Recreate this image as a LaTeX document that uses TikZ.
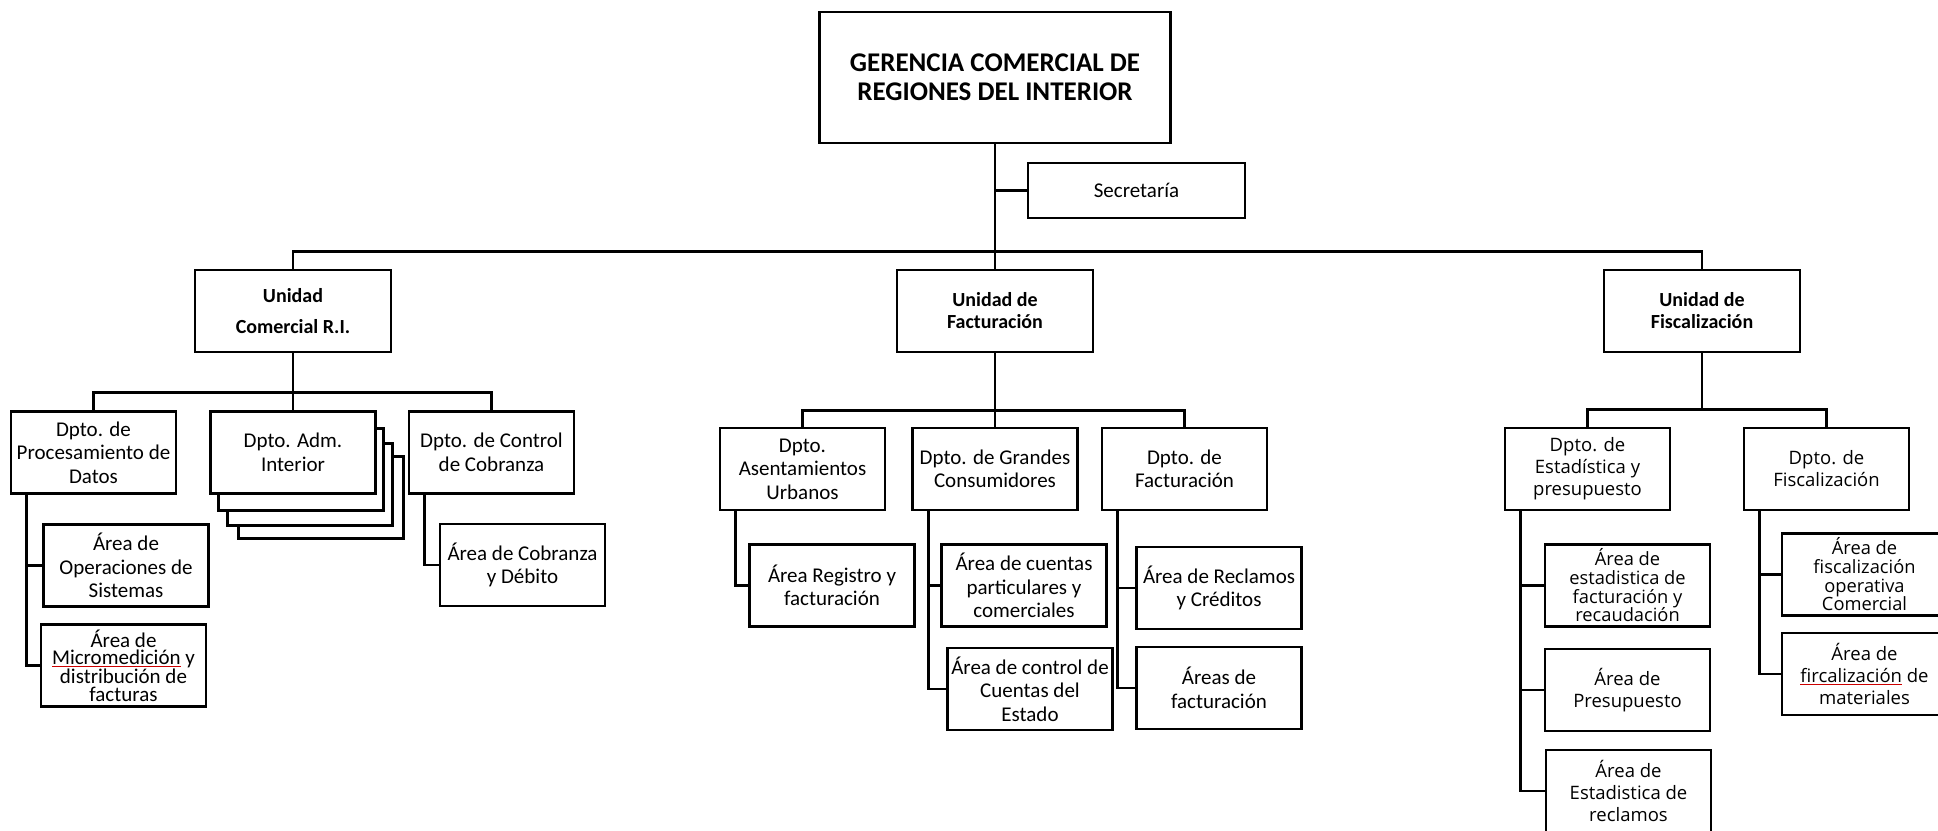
\documentclass[tikz,border=0pt]{standalone}
\usepackage{fontspec}
\setmainfont{Carlito}
\newfontfamily\widefont{Open Sans}
\usetikzlibrary{shadows}
\newcommand{\spellmark}[1]{{\color{red!80!black}$\underline{\hbox{\color{black}#1}}$}}

\begin{document}
\begin{tikzpicture}[x=1pt, y=-1pt,
  box/.style={draw, line width=2.6pt, fill=white, align=center, inner sep=0pt,
    minimum width=165pt, minimum height=82pt, font=\fontsize{21}{23.5}\selectfont},
  unitbox/.style={box, minimum width=196pt, font=\bfseries\fontsize{20}{22}\selectfont},
  tightbox/.style={box, font=\fontsize{21}{17.6}\selectfont},
  fiscbox/.style={box, font=\widefont\fontsize{18.5}{22}\selectfont},
  tightfisc/.style={box, font=\widefont\fontsize{18.3}{18.7}\selectfont},
  link/.style={line width=2.6pt}]
\useasboundingbox (0,0) rectangle (1938,830);
\clip (0,0) rectangle (1938,830);

\node[box, minimum width=351pt, minimum height=131pt, font=\bfseries\fontsize{27}{29}\selectfont] (ger) at (995,77.5) {GERENCIA COMERCIAL DE\\REGIONES DEL INTERIOR};
\node[box, minimum width=217pt, minimum height=55pt] (sec) at (1136.5,190.5) {Secretaría};

\node[unitbox] (ucom) at (293,311) {Unidad\\[9pt]Comercial R.I.};
\node[unitbox] (ufac) at (995,311) {Unidad de\\Facturación};
\node[unitbox] (ufis) at (1702,311) {Unidad de\\Fiscalización};

% Unidad Comercial R.I.
\node[box] (proc) at (93.5,452.5) {Dpto. de\\Procesamiento de\\Datos};
\node[box,
  copy shadow={shadow xshift=28pt, shadow yshift=-45pt, fill=white, draw=black, line width=2.2pt},
  copy shadow={shadow xshift=17pt, shadow yshift=-32pt, fill=white, draw=black, line width=2.2pt},
  copy shadow={shadow xshift=8pt, shadow yshift=-17pt, fill=white, draw=black, line width=2.2pt}]
  (adm) at (293,452.5) {Dpto. Adm.\\Interior};
\node[box] (ctrl) at (491.5,452.5) {Dpto. de Control\\de Cobranza};
\node[box] (aops) at (126,565.5) {Área de\\Operaciones de\\Sistemas};
\node[tightbox] (amic) at (123.5,665.5) {Área de\\\spellmark{Micromedición} y\\distribución de\\facturas};
\node[box] (acob) at (522.5,565) {Área de Cobranza\\y Débito};

% Unidad de Facturacion
\node[box] (asen) at (802.5,469) {Dpto.\\Asentamientos\\Urbanos};
\node[box] (gran) at (995,469) {Dpto. de Grandes\\Consumidores};
\node[box] (dfac) at (1184.5,469) {Dpto. de\\Facturación};
\node[box] (areg) at (832,585.5) {Área Registro y\\facturación};
\node[box] (acta) at (1024,585.5) {Área de cuentas\\particulares y\\comerciales};
\node[box] (aest) at (1030,689) {Área de control de\\Cuentas del\\Estado};
\node[box] (arec) at (1219,588) {Área de Reclamos\\y Créditos};
\node[box] (afac) at (1219,688) {Áreas de\\facturación};

% Unidad de Fiscalizacion
\node[fiscbox] (dest) at (1587.5,469) {Dpto. de\\Estadística y\\presupuesto};
\node[fiscbox] (dfis) at (1826.5,469) {Dpto. de\\Fiscalización};
\node[tightfisc] (aeft) at (1627.5,585.5) {Área de\\estadistica de\\facturación y\\recaudación};
\node[fiscbox] (apre) at (1627.5,690) {Área de\\Presupuesto};
\node[fiscbox] (aerc) at (1628.5,791) {Área de\\Estadistica de\\reclamos};
\node[tightfisc] (afop) at (1864.5,574.5) {Área de\\fiscalización\\operativa\\Comercial};
\node[fiscbox] (afma) at (1864.5,674) {Área de\\\spellmark{fircalización} de\\materiales};

\coordinate (fisbus) at ([yshift=17pt]dest.north);

\draw[link] (ger) -- (ufac);
\draw[link] (sec.west) -- (sec.west -| ger.south);
\draw[link] (ucom.north) -- ++(0,-17) -| (ufis.north);

\draw[link] (ucom) -- (adm);
\draw[link] (proc.north) -- ++(0,-18) -| (ctrl.north);
\draw[link] ([xshift=17pt]proc.south west) |- (aops.west);
\draw[link] ([xshift=17pt]proc.south west) |- (amic.west);
\draw[link] ([xshift=17pt]ctrl.south west) |- (acob.west);

\draw[link] (ufac) -- (gran);
\draw[link] (asen.north) -- ++(0,-16) -| (dfac.north);
\draw[link] ([xshift=17pt]asen.south west) |- (areg.west);
\draw[link] ([xshift=17pt]gran.south west) |- (acta.west);
\draw[link] ([xshift=17pt]gran.south west) |- (aest.west);
\draw[link] ([xshift=17pt]dfac.south west) |- (arec.west);
\draw[link] ([xshift=17pt]dfac.south west) |- (afac.west);

\draw[link] (ufis.south) -- (ufis.south |- fisbus);
\draw[link] (dest.north) -- (fisbus) -| (dfis.north);
\draw[link] ([xshift=17pt]dest.south west) |- (aeft.west);
\draw[link] ([xshift=17pt]dest.south west) |- (apre.west);
\draw[link] ([xshift=17pt]dest.south west) |- (aerc.west);
\draw[link] ([xshift=17pt]dfis.south west) |- (afop.west);
\draw[link] ([xshift=17pt]dfis.south west) |- (afma.west);
\end{tikzpicture}
\end{document}
